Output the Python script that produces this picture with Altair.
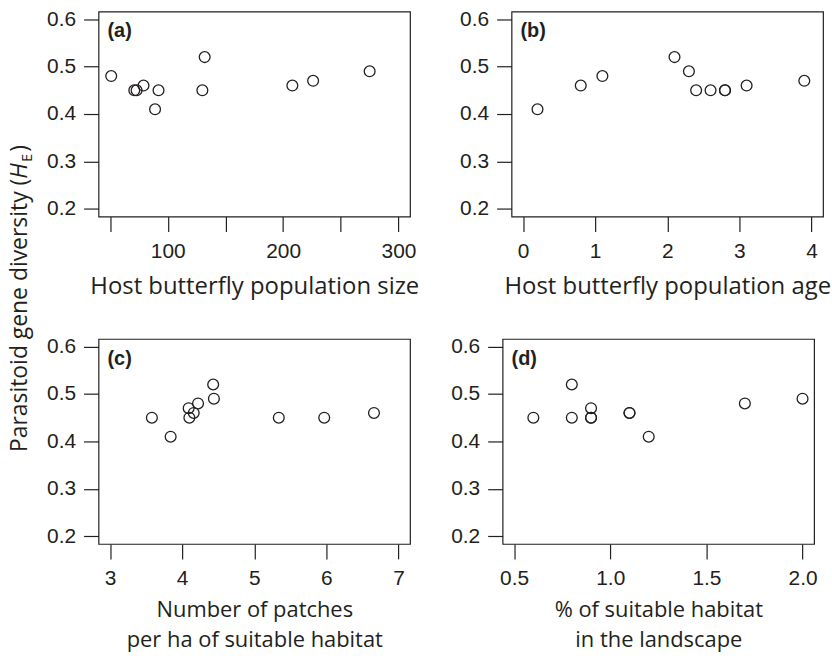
import altair as alt
import pandas as pd

INK = "#231f20"

# ---- data ----
a_x = [51, 71, 73, 79, 92, 89, 132, 130, 208, 226, 275]
a_y = [0.48, 0.45, 0.45, 0.46, 0.45, 0.41, 0.52, 0.45, 0.46, 0.47, 0.49]
b_x = [0.2, 0.8, 1.1, 2.1, 2.3, 2.4, 2.6, 2.8, 2.8, 3.1, 3.9]
b_y = [0.41, 0.46, 0.48, 0.52, 0.49, 0.45, 0.45, 0.45, 0.45, 0.46, 0.47]
c_x = [3.58, 3.84, 4.09, 4.10, 4.16, 4.22, 4.43, 4.44, 5.34, 5.97, 6.66]
c_y = [0.45, 0.41, 0.47, 0.45, 0.46, 0.48, 0.52, 0.49, 0.45, 0.45, 0.46]
d_x = [0.6, 0.8, 0.8, 0.9, 0.9, 0.9, 1.1, 1.1, 1.2, 1.7, 2.0]
d_y = [0.45, 0.52, 0.45, 0.47, 0.45, 0.45, 0.46, 0.46, 0.41, 0.48, 0.49]

y_ticks = [0.2, 0.3, 0.4, 0.5, 0.6]
a_ticks = [50, 100, 150, 200, 250, 300]
b_ticks = [0, 1, 2, 3, 4]
c_ticks = [3, 4, 5, 6, 7]
d_ticks = [0.5, 1.0, 1.5, 2.0]

tags = ["(a)", "(b)", "(c)", "(d)"]
x_titles = [
    "Host butterfly population size",
    "Host butterfly population age",
    ["Number of patches", "per ha of suitable habitat"],
    ["% of suitable habitat", "in the landscape"],
]
y_title_parts = ["Parasitoid gene diversity (", "H", "E", ")"]

PW, PH = 313, 206
TITLE_FONT = "Open Sans"
LABEL_FONT = "Liberation Sans"


def panel(xs, ys, domain, ticks, fmt, title, tag, label_expr=None):
    df = pd.DataFrame({"x": xs, "y": ys})
    xaxis_kw = dict(values=ticks, format=fmt, title=title)
    if label_expr:
        xaxis_kw["labelExpr"] = label_expr
    if isinstance(title, list):
        xaxis_kw.update(titleFontSize=22, titleLineHeight=30, titlePadding=11)
    pts = alt.Chart(df).mark_point(
        shape="circle", filled=False, size=118, strokeWidth=1.3,
        color=INK, opacity=1
    ).encode(
        x=alt.X("x:Q", scale=alt.Scale(domain=domain, nice=False, zero=False),
                axis=alt.Axis(**xaxis_kw)),
        y=alt.Y("y:Q", scale=alt.Scale(domain=[0.184, 0.616], nice=False, zero=False),
                axis=alt.Axis(values=y_ticks, format=".1f", title=None)),
    )
    lab = alt.Chart(pd.DataFrame({"t": [tag]})).mark_text(
        align="left", baseline="middle", fontWeight="bold", fontSize=20,
        font=LABEL_FONT, color=INK
    ).encode(x=alt.value(9), y=alt.value(20), text="t:N")
    return alt.layer(pts, lab).properties(width=PW, height=PH)


pa = panel(a_x, a_y, [40, 310], a_ticks, "d", x_titles[0], tags[0],
           "datum.value % 100 == 0 ? datum.label : ''")
pb = panel(b_x, b_y, [-0.16, 4.16], b_ticks, "d", x_titles[1], tags[1])
pc = panel(c_x, c_y, [2.84, 7.16], c_ticks, "d", x_titles[2], tags[2])
pd_ = panel(d_x, d_y, [0.44, 2.06], d_ticks, ".1f", x_titles[3], tags[3])

# rotated y title built from pieces (italic H with subscript E)
PAD_TOP = 6
XB, YA = 27, 174 - PAD_TOP
def piece(txt, align, size, style="normal", dx=0, dy=0):
    return alt.Chart(pd.DataFrame({"t": [txt]})).mark_text(
        align=align, baseline="alphabetic", angle=270, fontSize=size,
        font=TITLE_FONT, fontStyle=style, color=INK, dx=dx, dy=dy
    ).encode(x=alt.value(XB), y=alt.value(YA), text="t:N")

ytitle = alt.layer(
    piece(y_title_parts[0], "right", 23),
    piece(y_title_parts[1], "left", 23, "italic"),
    piece(y_title_parts[2], "left", 14, "normal", dx=17, dy=5),
    piece(y_title_parts[3], "left", 23, "normal", dx=27),
).properties(width=40, height=560, view=alt.ViewBackground(strokeOpacity=0))

grid = alt.vconcat(
    alt.hconcat(pa, pb, spacing=39),
    alt.hconcat(pc, pd_, spacing=39),
    spacing=36,
)

chart = alt.hconcat(ytitle, grid, spacing=6).properties(
    padding={"left": 0, "top": PAD_TOP, "right": 0, "bottom": 0},
    background="white",
).configure_view(
    stroke=INK, strokeWidth=1.2
).configure_axis(
    domain=False, grid=False, tickSize=15, tickColor=INK, tickWidth=1.2,
    labelFont=LABEL_FONT, labelFontSize=21, labelColor=INK,
    titleFont=TITLE_FONT, titleFontSize=24, titleFontWeight="normal",
    titleColor=INK, titleLineHeight=25
).configure_axisY(
    labelPadding=8
).configure_axisX(
    labelPadding=9, titlePadding=13
)

chart.save("out.html", embed_options={"renderer": "svg", "actions": False})
